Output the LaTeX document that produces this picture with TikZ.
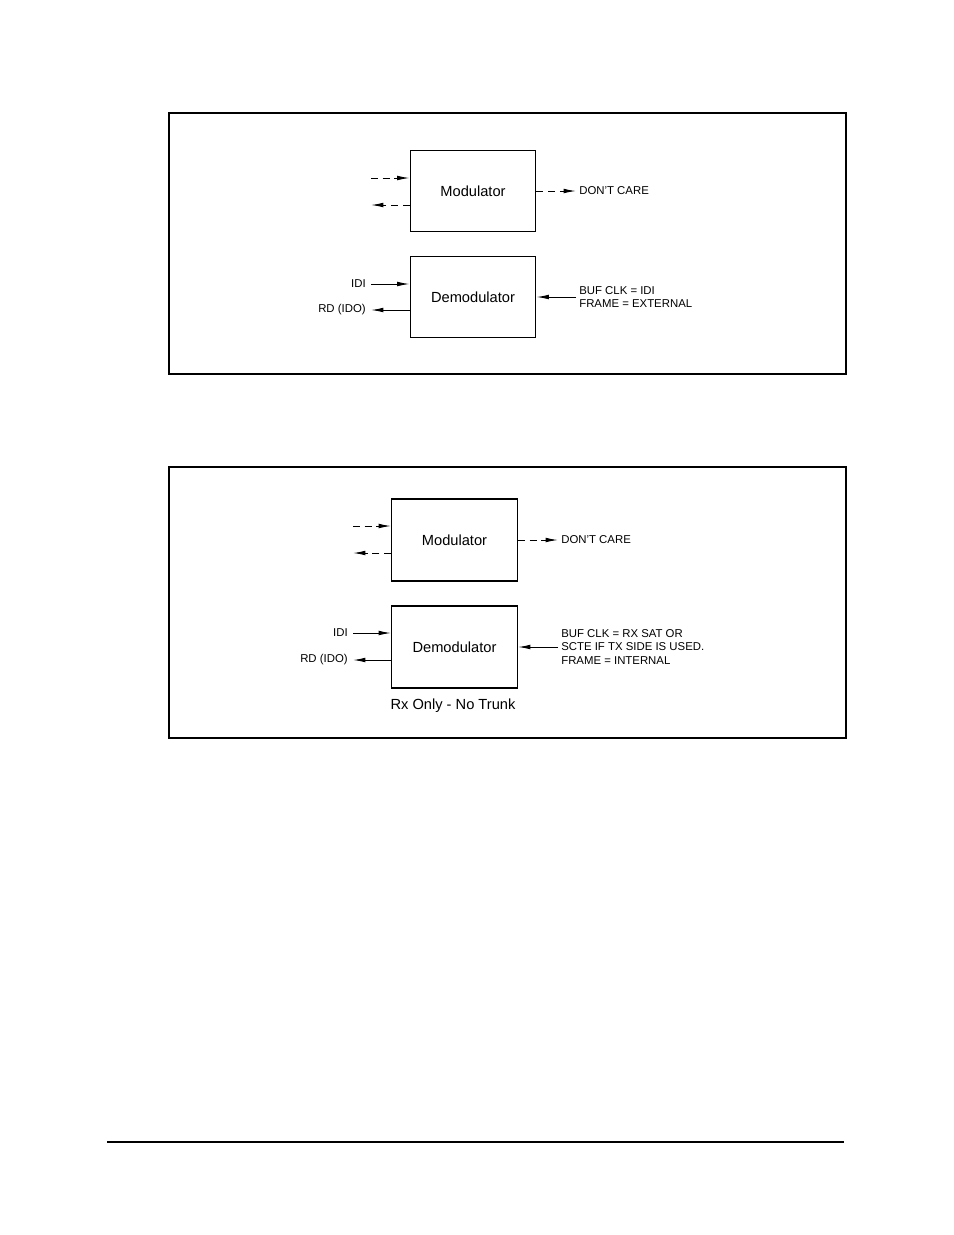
\documentclass[tikz,border=0pt]{standalone}
\usepackage{fontspec}
\setmainfont{Liberation Sans}
\usetikzlibrary{arrows.meta,calc}
\begin{document}
\begin{tikzpicture}[x=0.6415pt,y=-0.6415pt,
  frame/.style={draw,line width=1.4pt},
  blockbox/.style={draw,line width=0.9pt,minimum width=80.5pt,minimum height=52pt,inner sep=0pt,font=\fontsize{9.4}{11}\selectfont},
  sig/.style={line width=0.65pt,-{Latex[length=8pt,width=3pt]}},
  dsig/.style={sig,dash pattern=on 4.5pt off 3pt},
  lbl/.style={inner sep=0pt,font=\fontsize{7.3}{8.8}\selectfont,align=left}]
\useasboundingbox (0,0) rectangle (954,1235);
% ---------- first panel ----------
\node[frame,minimum width=434.3pt,minimum height=167.4pt,inner sep=0pt] (f1) at (507.5,243.5) {};
\node[blockbox] (mod1) at (473,191) {Modulator};
\node[blockbox] (dem1) at (473,297) {Demodulator};
\coordinate (a1) at (371,178);
\coordinate (b1) at (371,205);
\draw[dsig] (a1) -- (a1 -| mod1.west);
\draw[dsig] (b1 -| mod1.west) -- (b1);
\node[lbl,anchor=west] (dc1) at (579,191) {DON'T CARE};
\draw[dsig] (mod1.east) -- ($(dc1.west)+(-3,0)$);
\node[lbl,anchor=east] (idi1) at (366,284) {IDI};
\node[lbl,anchor=east] (rd1) at (366,310) {RD (IDO)};
\draw[sig] ($(idi1.east)+(5,0)$) -- (idi1.east -| dem1.west);
\draw[sig] (rd1.east -| dem1.west) -- ($(rd1.east)+(5,0)$);
\node[lbl,anchor=west] (bc1) at (579,297) {BUF CLK = IDI\\FRAME = EXTERNAL};
\draw[sig] ($(bc1.west)+(-3,0)$) -- (dem1.east);
% ---------- second panel ----------
\node[frame,minimum width=434.3pt,minimum height=173.8pt,inner sep=0pt] (f2) at (507.5,602.5) {};
\node[blockbox,minimum height=52.6pt] (mod2) at (454.5,540) {Modulator};
\node[blockbox,minimum height=52.6pt] (dem2) at (454.5,647) {Demodulator};
\coordinate (a2) at (353,526);
\coordinate (b2) at (353,553);
\draw[dsig] (a2) -- (a2 -| mod2.west);
\draw[dsig] (b2 -| mod2.west) -- (b2);
\node[lbl,anchor=west] (dc2) at (561,540) {DON'T CARE};
\draw[dsig] (mod2.east) -- ($(dc2.west)+(-3,0)$);
\node[lbl,anchor=east] (idi2) at (348,633) {IDI};
\node[lbl,anchor=east] (rd2) at (348,660) {RD (IDO)};
\draw[sig] ($(idi2.east)+(5,0)$) -- (idi2.east -| dem2.west);
\draw[sig] (rd2.east -| dem2.west) -- ($(rd2.east)+(5,0)$);
\node[lbl,anchor=west] (bc2) at (561,647) {BUF CLK = RX SAT OR\\SCTE IF TX SIDE IS USED.\\FRAME = INTERNAL};
\draw[sig] ($(bc2.west)+(-3,0)$) -- (dem2.east);
\node[inner sep=0pt,font=\fontsize{9.4}{11}\selectfont] (cap2) at (453,706) {Rx Only - No Trunk};
% ---------- footer rule ----------
\coordinate (r1) at (107,1142);
\coordinate (r2) at (844,1142);
\draw[line width=0.9pt] (r1) -- (r2);
\end{tikzpicture}
\end{document}
